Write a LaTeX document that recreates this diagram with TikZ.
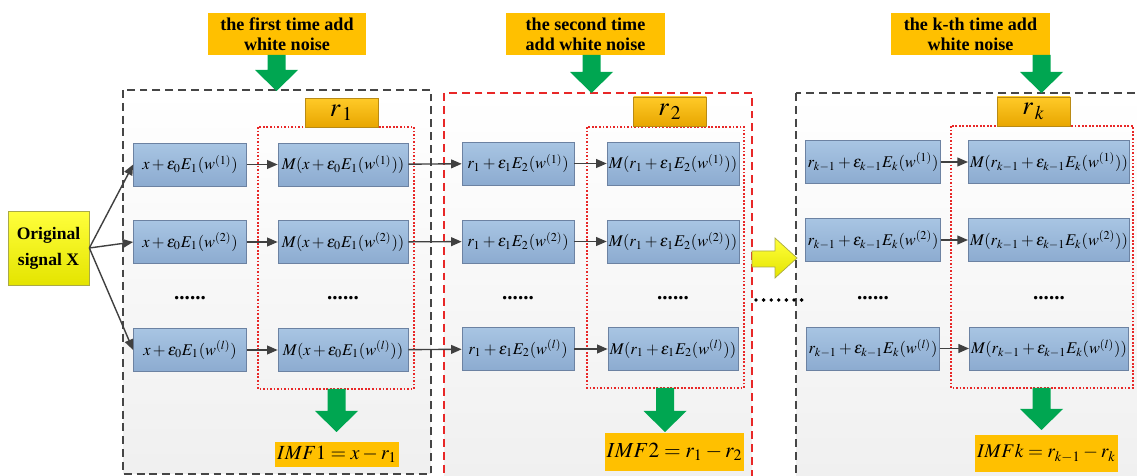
\documentclass[tikz,border=0pt]{standalone}
\usepackage{mathptmx}
\usepackage{fontspec}
\setmainfont{Liberation Serif}
\usetikzlibrary{positioning, arrows.meta}

\definecolor{headorange}{RGB}{255,192,0}
\definecolor{noisegreen}{RGB}{0,166,81}
\definecolor{blueTop}{RGB}{168,197,227}
\definecolor{blueBot}{RGB}{140,171,208}
\definecolor{blueEdge}{RGB}{108,130,162}
\definecolor{resTop}{RGB}{255,202,40}
\definecolor{resBot}{RGB}{232,166,0}
\definecolor{resEdge}{RGB}{185,138,20}
\definecolor{sigTop}{RGB}{255,255,60}
\definecolor{sigBot}{RGB}{228,228,0}
\definecolor{sigEdge}{RGB}{170,170,70}
\definecolor{panelGray}{RGB}{70,70,70}
\definecolor{panelRed}{RGB}{232,40,40}
\definecolor{flowGray}{RGB}{64,64,64}

\tikzset{
  panel/.style={top color=white, bottom color=black!6, line width=0.9pt, dash pattern=on 4.5pt off 2.8pt},
  emdbox/.style={draw=panelRed, line width=0.9pt, dash pattern=on 1pt off 1pt},
  calcbox/.style={draw=blueEdge, top color=blueTop, bottom color=blueBot, minimum height=0.86cm, inner sep=1pt, font=\fontsize{9.3}{11}\selectfont},
  headbox/.style={fill=headorange, minimum width=3.18cm, minimum height=0.84cm, align=center, inner sep=1pt, font=\fontsize{10.3}{11.5}\selectfont\bfseries},
  resbox/.style={draw=resEdge, top color=resTop, bottom color=resBot, minimum width=1.46cm, minimum height=0.58cm, inner sep=0pt, font=\fontsize{15}{17}\selectfont},
  imfbox/.style={fill=headorange, minimum height=0.5cm, inner sep=1pt},
  dots/.style={inner sep=0pt, font=\fontsize{12}{13}\selectfont\bfseries},
  flow/.style={draw=flowGray, line width=0.8pt, -{Triangle[length=6pt,width=5pt]}},
  pics/noisearrow/.style={code={
    \fill[noisegreen] (-9,0) -- (9,0) -- (9,#1-21) -- (21.5,#1-21) -- (0,#1) -- (-21.5,#1-21) -- (-9,#1-21) -- cycle;
  }},
}

\begin{document}
\begin{tikzpicture}[x=0.02cm, y=-0.02cm]
\useasboundingbox (0,0) rectangle (1137,476);

% the three stages
\draw[panel, draw=panelGray] (123,90) rectangle (431,474);
\draw[panel, draw=panelRed] (444,93) rectangle (752,484);
\draw[panel, draw=panelGray] (796,93) rectangle (1145,484);

\draw[emdbox] (258,127) rectangle (414,389);
\draw[emdbox] (587,127) rectangle (744,388);
\draw[emdbox] (951,126) rectangle (1133,388);

% noise headers
\node[headbox] (h1) at (287,34) {the first time add\\white noise};
\node[headbox] (h2) at (585.5,34) {the second time\\add white noise};
\node[headbox] (h3) at (970.5,34) {the k-th time add\\white noise};

\pic (g1) at (276.5,55) {noisearrow=36};
\pic (g2) at (591.5,55) {noisearrow=38};
\pic (g3) at (1041.5,55) {noisearrow=38};

% residues
\node[resbox] (r1) at (341.5,112.5) {$r_{\,1}$};
\node[resbox] (r2) at (670,111.5) {$r_{\,2}$};
\node[resbox] (rk) at (1033.5,111.5) {$r_{\,k}$};

% input signal
\node[draw=sigEdge, top color=sigTop, bottom color=sigBot, minimum width=1.62cm, minimum height=1.48cm, align=center, font=\fontsize{10}{14.8}\selectfont\bfseries] (sig) at (48.5,248) {Original\\signal X};

% stage 1
\foreach \s/\y in {1/164.5,2/242,l/350} {
  \node[calcbox, minimum width=2.26cm] (a\s) at (190,\y) {$x+\varepsilon_0E_1(w^{(\s)})$};
  \node[calcbox, minimum width=2.6cm] (b\s) at (343,\y) {$M(x+\varepsilon_0E_1(w^{(\s)}))$};
  \draw[flow] (sig.east) -- (a\s.west);
  \draw[flow] (a\s) -- (b\s);
}

% stage 2
\foreach \s/\y in {1/163.5,2/241.5,l/349} {
  \node[calcbox, minimum width=2.24cm] (c\s) at (518,\y) {$r_1+\varepsilon_1E_2(w^{(\s)})$};
  \node[calcbox, minimum width=2.6cm] (d\s) at (673,\y) {$M(r_1+\varepsilon_1E_2(w^{(\s)}))$};
  \draw[flow] (b\s) -- (c\s);
  \draw[flow] (c\s) -- (d\s);
}

% stage k
\foreach \s/\y in {1/162,2/240,l/348.5} {
  \node[calcbox, minimum width=2.6cm] (e\s) at (873,\y) {$r_{k-1}+\varepsilon_{k-1}E_k(w^{(\s)})$};
  \node[calcbox, minimum width=3.16cm] (f\s) at (1049,\y) {$M(r_{k-1}+\varepsilon_{k-1}E_k(w^{(\s)}))$};
  \draw[flow] (e\s) -- (f\s);
}

\node[dots] (da) at (190,298) {......};
\node[dots] (db) at (343,298) {......};
\node[dots] (dc) at (518,298) {......};
\node[dots] (dd) at (673,298) {......};
\node[dots] (de) at (873,298) {......};
\node[dots] (df) at (1049,298) {......};

% jump to the k-th stage
\draw[draw=sigEdge, top color=sigTop, bottom color=sigBot] (752,251) -- (775,251) -- (775,238) -- (797,258) -- (775,278) -- (775,267) -- (752,267) -- cycle;
\foreach \i in {0,...,6}
  \fill (756+7.6*\i,300) circle[radius=1.1pt];

% outputs
\pic (o1) at (336.5,389) {noisearrow=43};
\pic (o2) at (665,388) {noisearrow=44};
\pic (o3) at (1041.5,388) {noisearrow=42};

\node[imfbox, minimum width=2.44cm, font=\fontsize{11.4}{13}\selectfont] (m1) at (337,454.5) {$IMF1=x-r_1$};
\node[imfbox, minimum width=2.74cm, minimum height=0.76cm, font=\fontsize{12.2}{14}\selectfont] (m2) at (674.5,452) {$IMF2=r_1-r_2$};
\node[imfbox, minimum width=2.54cm, minimum height=0.74cm, font=\fontsize{11}{13}\selectfont] (mk) at (1046.5,453.5) {$IMFk=r_{k-1}-r_k$};
\end{tikzpicture}
\end{document}
